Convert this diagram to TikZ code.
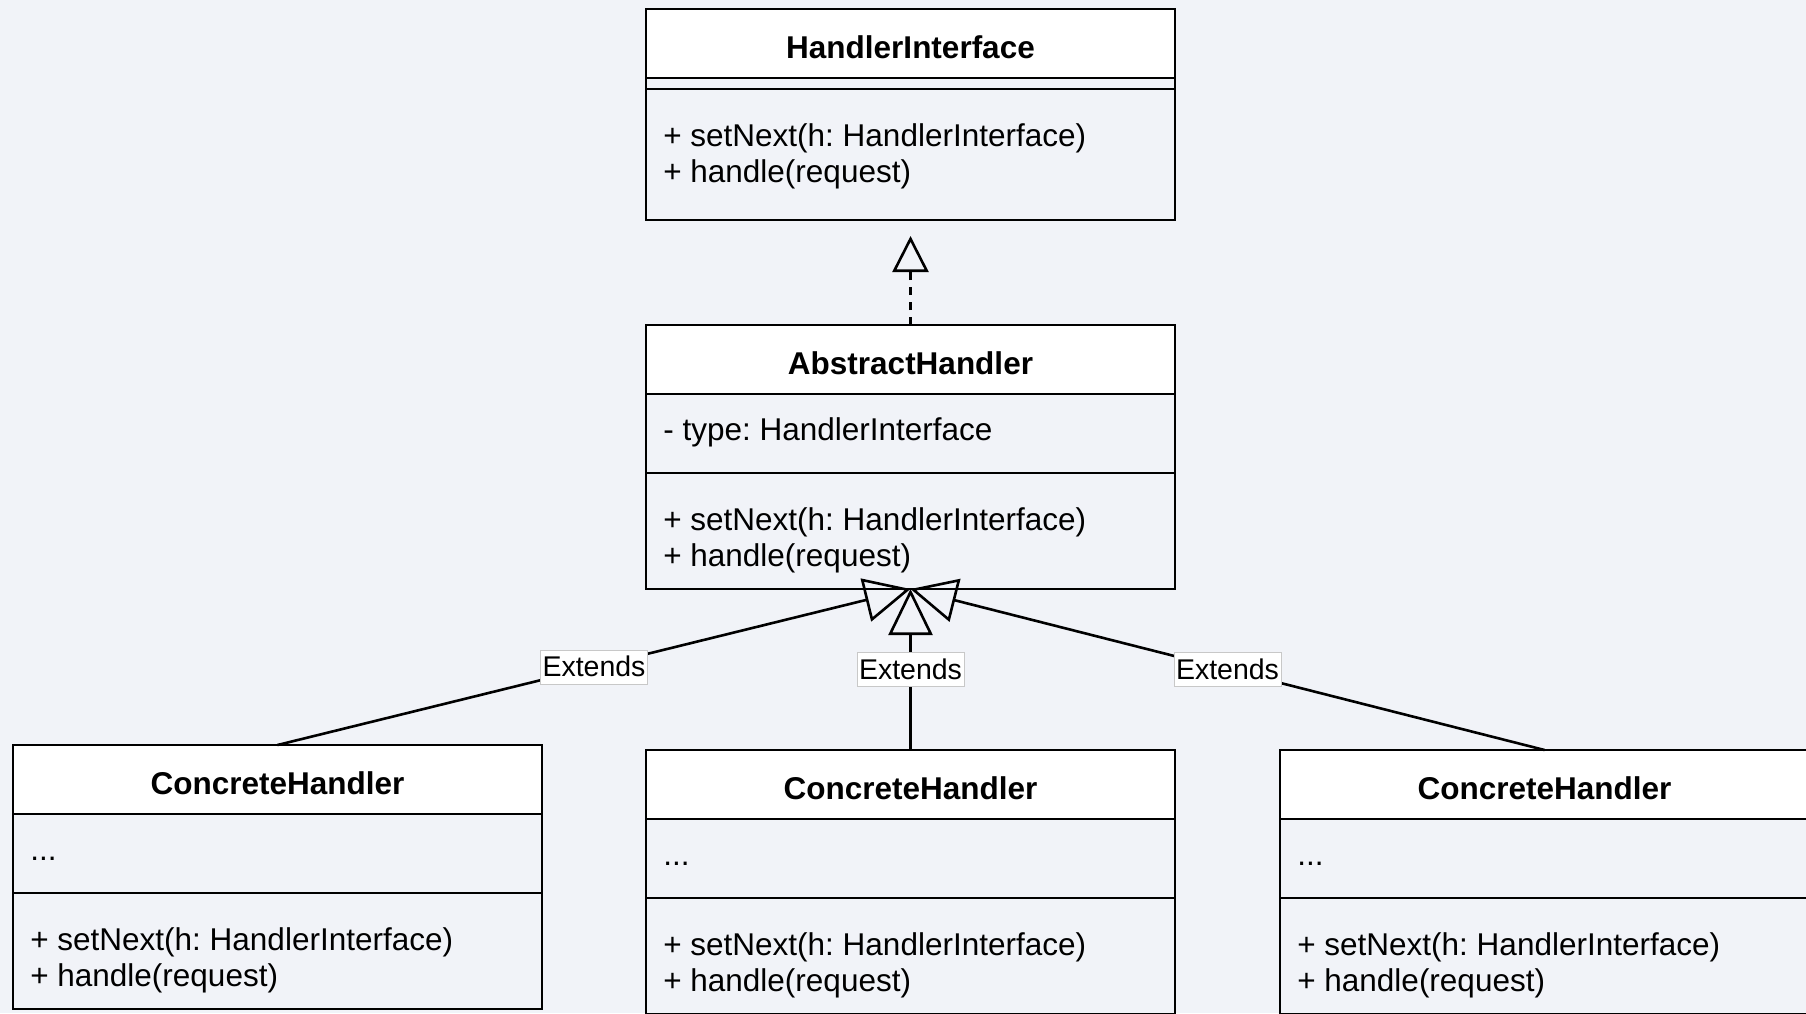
\documentclass[tikz,border=0pt]{standalone}
\usepackage{fontspec}
\setmainfont{Liberation Sans}
\usetikzlibrary{arrows.meta,positioning}
\frenchspacing

\definecolor{canvas}{RGB}{241,243,248}
\definecolor{labelgray}{RGB}{200,200,200}

\begin{document}
\begin{tikzpicture}[
        x=1pt, y=-1pt,
        line width=2.6pt,
        classtitle/.style={
            draw=black,
            fill=white,
            minimum width=529pt,
            minimum height=69pt,
            inner sep=0pt,
            outer sep=0pt,
            text height=29pt,
            text depth=0pt,
            font=\fontsize{31.5}{37}\selectfont\bfseries
        },
        classpart/.style={
            draw=black,
            minimum width=529pt,
            minimum height=#1,
            inner sep=0pt,
            outer sep=0pt
        },
        member/.style={
            anchor=base west,
            inner sep=0pt,
            align=left,
            font=\fontsize{31.5}{36.7}\selectfont
        },
        extends/.style={-{Triangle[open,length=46pt,width=44pt]}},
        realize/.style={dash pattern=on 8pt off 7pt,shorten >=16pt,-{Triangle[open,length=36pt,width=36pt]}},
        extlabel/.style={
            fill=white,
            draw=labelgray,
            line width=1pt,
            inner xsep=2pt,
            inner ysep=1.5pt,
            text height=25pt,
            text depth=6pt,
            font=\fontsize{28.5}{30}\selectfont
        }
    ]

    % Background
    \useasboundingbox (0,0) rectangle (1806,1013);
    \fill[canvas] (0,0) rectangle (1806,1013);
    \clip (0,0) rectangle (1806,1013);

    % Interface
    \node[classtitle, anchor=north west] (hiT) at (646,9) {HandlerInterface};
    \node[classpart=11pt, anchor=north]  (hiA) at (hiT.south) {};
    \node[classpart=131pt, anchor=north] (hiM) at (hiA.south) {};
    \node[member] (hiOps) at ([xshift=16pt,yshift=-93.7pt]hiM.north west) {+ setNext(h: HandlerInterface)\\+ handle(request)};

    % Abstract class
    \node[classtitle, anchor=north west] (ahT) at (646,325) {AbstractHandler};
    \node[classpart=79pt, anchor=north]  (ahA) at (ahT.south) {};
    \node[classpart=116pt, anchor=north] (ahM) at (ahA.south) {};
    \node[member] (ahAttr) at ([xshift=16pt,yshift=-46pt]ahA.north west) {- type: HandlerInterface};
    \node[member] (ahOps)  at ([xshift=16pt,yshift=-93.7pt]ahM.north west) {+ setNext(h: HandlerInterface)\\+ handle(request)};

    % Concrete classes
    \node[classtitle, anchor=north west] (chaT) at (13,745) {ConcreteHandler};
    \node[classpart=79pt, anchor=north]  (chaA) at (chaT.south) {};
    \node[classpart=116pt, anchor=north] (chaM) at (chaA.south) {};
    \node[member] (chaAttr) at ([xshift=16pt,yshift=-46pt]chaA.north west) {...};
    \node[member] (chaOps)  at ([xshift=16pt,yshift=-93.7pt]chaM.north west) {+ setNext(h: HandlerInterface)\\+ handle(request)};

    \node[classtitle, anchor=north west] (chbT) at (646,750) {ConcreteHandler};
    \node[classpart=79pt, anchor=north]  (chbA) at (chbT.south) {};
    \node[classpart=116pt, anchor=north] (chbM) at (chbA.south) {};
    \node[member] (chbAttr) at ([xshift=16pt,yshift=-46pt]chbA.north west) {...};
    \node[member] (chbOps)  at ([xshift=16pt,yshift=-93.7pt]chbM.north west) {+ setNext(h: HandlerInterface)\\+ handle(request)};

    \node[classtitle, anchor=north west] (chcT) at (1280,750) {ConcreteHandler};
    \node[classpart=79pt, anchor=north]  (chcA) at (chcT.south) {};
    \node[classpart=116pt, anchor=north] (chcM) at (chcA.south) {};
    \node[member] (chcAttr) at ([xshift=16pt,yshift=-46pt]chcA.north west) {...};
    \node[member] (chcOps)  at ([xshift=16pt,yshift=-93.7pt]chcM.north west) {+ setNext(h: HandlerInterface)\\+ handle(request)};

    % Relations
    \draw[realize] (ahT.north) -- (hiM.south);
    \draw[extends] (chaT.north) -- node[extlabel] {Extends} (ahM.south);
    \draw[extends] (chbT.north) -- node[extlabel] {Extends} (ahM.south);
    \draw[extends] (chcT.north) -- node[extlabel] {Extends} (ahM.south);

\end{tikzpicture}
\end{document}
